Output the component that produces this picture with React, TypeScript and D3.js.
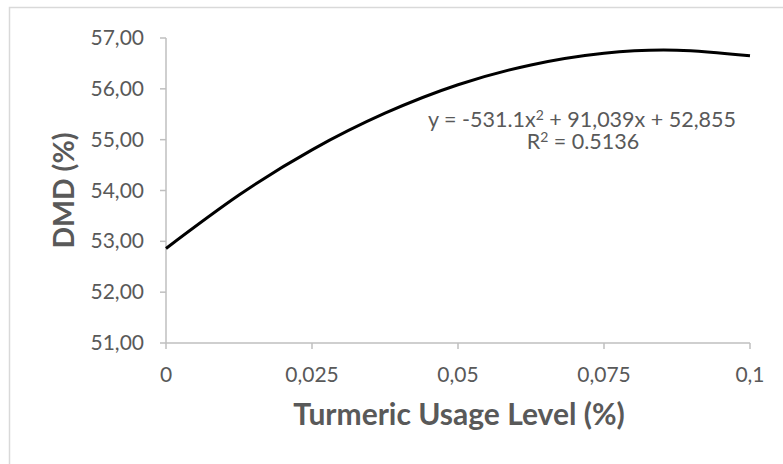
import React from "react";
import * as d3 from "d3";

const xLevels = [0, 0.0125, 0.025, 0.0375, 0.05, 0.0625, 0.075, 0.0875, 0.1];
const dmdValues = [52.86, 53.91, 54.8, 55.52, 56.08, 56.47, 56.7, 56.76, 56.65];
const xTicks = [0, 0.025, 0.05, 0.075, 0.1];
const xTickLabels = ["0", "0,025", "0,05", "0,075", "0,1"];
const yTicks = [51, 52, 53, 54, 55, 56, 57];
const yTickLabels = ["51,00", "52,00", "53,00", "54,00", "55,00", "56,00", "57,00"];
const xTitle = "Turmeric Usage Level (%)";
const yTitle = "DMD (%)";
const eqLine1 = ["y = -531.1x", "2", " + 91,039x + 52,855"];
const eqLine2 = ["R", "2", " = 0.5136"];

const W = 783;
const H = 464;
const FONT = "Lato, 'Open Sans', sans-serif";
const TXT = "#595959";
const AXIS = "#bfbfbf";

export default function App() {
  const x = d3.scaleLinear().domain([0, 0.1]).range([166, 750]);
  const y = d3.scaleLinear().domain([51, 57]).range([343, 38]);
  const pts: [number, number][] = xLevels.map((v, i) => [v, dmdValues[i]]);
  const line = d3
    .line<[number, number]>()
    .x((d) => x(d[0]))
    .y((d) => y(d[1]))
    .curve(d3.curveNatural);

  return (
    <svg
      width={W}
      height={H}
      style={{ position: "absolute", left: 0, top: 0, background: "#fff" }}
      fontFamily={FONT}
    >
      <rect x={0} y={0} width={W} height={H} fill="#fff" />
      <rect x={9.5} y={7.5} width={820} height={520} fill="none" stroke="#d9d9d9" strokeWidth={1.5} />
      {/* y axis */}
      <line x1={x(0)} x2={x(0)} y1={y(57)} y2={y(51)} stroke={AXIS} strokeWidth={1.5} />
      {yTicks.map((t, i) => (
        <g key={"yt" + t}>
          <line x1={x(0) - 6} x2={x(0)} y1={y(t)} y2={y(t)} stroke={AXIS} strokeWidth={1.5} />
          <text x={144} y={y(t) + 7} textAnchor="end" fontSize={21} fill={TXT}>
            {yTickLabels[i]}
          </text>
        </g>
      ))}
      {/* x axis */}
      <line x1={x(0)} x2={x(0.1)} y1={y(51)} y2={y(51)} stroke={AXIS} strokeWidth={1.5} />
      {xTicks.map((t, i) => (
        <g key={"xt" + t}>
          <line x1={x(t)} x2={x(t)} y1={y(51)} y2={y(51) + 6} stroke={AXIS} strokeWidth={1.5} />
          <text x={x(t)} y={382} textAnchor="middle" fontSize={21} fill={TXT}>
            {xTickLabels[i]}
          </text>
        </g>
      ))}
      {/* curve */}
      <path d={line(pts) || ""} fill="none" stroke="#000" strokeWidth={3} />
      {/* equation */}
      <text x={582} y={127} textAnchor="middle" fontSize={21.5} fill={TXT}>
        {eqLine1[0]}
        <tspan dy={-7} fontSize={14}>{eqLine1[1]}</tspan>
        <tspan dy={7}>{eqLine1[2]}</tspan>
      </text>
      <text x={583} y={149} textAnchor="middle" fontSize={21.5} fill={TXT}>
        {eqLine2[0]}
        <tspan dy={-7} fontSize={14}>{eqLine2[1]}</tspan>
        <tspan dy={7}>{eqLine2[2]}</tspan>
      </text>
      {/* titles */}
      <text x={459} y={425} textAnchor="middle" fontSize={30} fontWeight="bold" fill={TXT}>
        {xTitle}
      </text>
      <text
        transform={`translate(74,190.5) rotate(-90)`}
        textAnchor="middle"
        fontSize={28.5}
        fontWeight="bold"
        fill={TXT}
      >
        {yTitle}
      </text>
    </svg>
  );
}
